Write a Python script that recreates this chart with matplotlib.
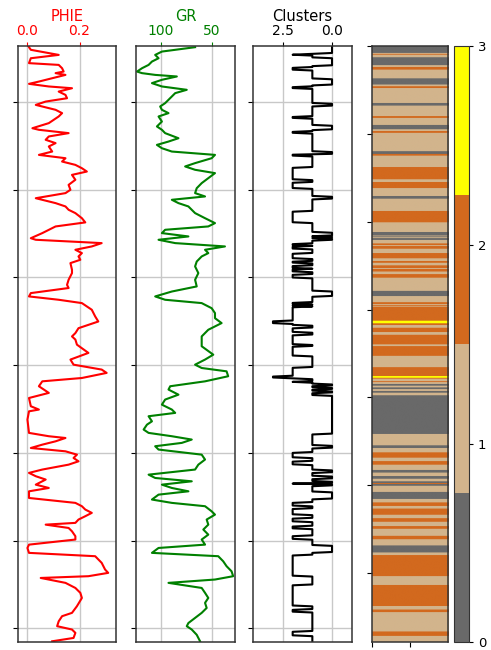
import numpy as np
import matplotlib.pyplot as plt
from matplotlib.colors import ListedColormap

# well section (ft), logs sampled every half foot
top_depth = 3668.0
base_depth = 4008.0
step = 0.5

phie_depth = [3668.0, 3668.7, 3670.2, 3673.1, 3675.0, 3677.8, 3678.8, 3680.7, 3682.6, 3683.5,
              3684.5, 3686.4, 3688.3, 3689.6, 3691.1, 3692.1, 3694.0, 3695.9, 3697.8, 3699.7,
              3701.6, 3702.5, 3704.4, 3706.3, 3708.2, 3712.0, 3714.9, 3715.8, 3717.7, 3719.6,
              3721.5, 3723.4, 3725.3, 3728.2, 3730.1, 3732.0, 3733.9, 3735.8, 3737.7, 3739.6,
              3741.5, 3744.3, 3747.2, 3750.0, 3751.9, 3754.8, 3755.7, 3757.6, 3759.5, 3761.4,
              3763.3, 3766.2, 3768.6, 3770.9, 3774.7, 3777.6, 3778.5, 3780.4, 3782.3, 3784.2,
              3786.1, 3788.0, 3789.9, 3791.8, 3795.6, 3797.5, 3801.3, 3804.2, 3806.0, 3808.9,
              3810.8, 3812.7, 3814.6, 3816.5, 3818.4, 3822.2, 3825.1, 3827.0, 3828.9, 3831.7,
              3833.6, 3835.4, 3838.3, 3843.0, 3846.8, 3849.7, 3852.5, 3854.4, 3857.3, 3859.2,
              3862.0, 3863.9, 3865.8, 3868.7, 3873.4, 3875.3, 3876.3, 3881.0, 3888.6, 3890.5,
              3891.5, 3893.4, 3895.3, 3897.2, 3899.1, 3901.0, 3902.9, 3904.8, 3906.7, 3909.5,
              3911.4, 3913.3, 3915.2, 3918.1, 3920.0, 3921.9, 3925.7, 3928.5, 3930.4, 3932.3,
              3934.2, 3936.1, 3938.0, 3939.9, 3940.9, 3942.8, 3944.7, 3947.5, 3949.4, 3952.3,
              3954.2, 3957.0, 3958.9, 3962.7, 3966.5, 3968.4, 3970.3, 3971.3, 3974.1, 3977.0,
              3979.8, 3982.7, 3987.4, 3991.2, 3993.1, 3996.0, 3998.8, 4000.7, 4002.6, 4005.5,
              4007.4]
phie = [0.004, 0.006, 0.013, 0.120, 0.013, 0.006, 0.120, 0.133, 0.139, 0.108,
        0.146, 0.095, 0.044, 0.006, 0.082, 0.171, 0.120, 0.146, 0.152, 0.070,
        0.032, 0.057, 0.108, 0.133, 0.120, 0.082, 0.019, 0.044, 0.158, 0.082,
        0.070, 0.108, 0.082, 0.095, 0.044, 0.146, 0.133, 0.184, 0.209, 0.228,
        0.171, 0.184, 0.158, 0.165, 0.146, 0.032, 0.057, 0.108, 0.146, 0.158,
        0.184, 0.209, 0.222, 0.108, 0.057, 0.013, 0.032, 0.285, 0.247, 0.184,
        0.209, 0.196, 0.203, 0.165, 0.171, 0.171, 0.158, 0.152, 0.158, 0.013,
        0.006, 0.120, 0.209, 0.228, 0.247, 0.260, 0.272, 0.234, 0.196, 0.184,
        0.171, 0.184, 0.190, 0.234, 0.165, 0.177, 0.285, 0.304, 0.209, 0.057,
        0.044, 0.063, 0.082, 0.006, 0.013, 0.044, 0.006, 0.000, 0.006, 0.082,
        0.146, 0.108, 0.057, 0.013, 0.146, 0.190, 0.177, 0.196, 0.158, 0.057,
        0.006, 0.032, 0.070, 0.032, 0.082, 0.006, 0.006, 0.184, 0.209, 0.222,
        0.247, 0.222, 0.196, 0.184, 0.070, 0.158, 0.171, 0.184, 0.184, 0.006,
        0.000, 0.006, 0.260, 0.285, 0.298, 0.310, 0.234, 0.051, 0.146, 0.184,
        0.203, 0.209, 0.190, 0.171, 0.133, 0.120, 0.114, 0.171, 0.184, 0.177,
        0.095]

gr_depth = [3668.7, 3671.2, 3673.1, 3675.0, 3676.9, 3678.8, 3680.7, 3682.6, 3683.5, 3684.5,
            3685.4, 3687.3, 3689.2, 3691.1, 3693.0, 3694.9, 3696.8, 3698.7, 3700.6, 3702.5,
            3704.4, 3706.3, 3708.2, 3711.1, 3713.9, 3715.8, 3717.7, 3720.6, 3722.5, 3724.4,
            3726.3, 3728.2, 3730.1, 3732.0, 3734.8, 3736.7, 3738.6, 3740.5, 3743.4, 3746.2,
            3749.1, 3751.9, 3753.8, 3755.7, 3757.6, 3759.5, 3761.4, 3763.3, 3766.2, 3769.0,
            3770.9, 3772.8, 3774.7, 3776.6, 3778.5, 3780.4, 3782.3, 3784.2, 3786.1, 3788.0,
            3790.9, 3793.7, 3797.5, 3801.3, 3805.1, 3808.0, 3810.8, 3812.7, 3814.6, 3817.5,
            3820.3, 3823.2, 3826.0, 3827.9, 3829.8, 3831.7, 3833.6, 3835.4, 3839.2, 3844.0,
            3846.8, 3849.7, 3851.6, 3853.5, 3856.3, 3859.2, 3862.0, 3863.9, 3866.8, 3869.6,
            3872.5, 3875.3, 3877.2, 3879.1, 3882.0, 3883.9, 3886.7, 3888.6, 3890.5, 3892.4,
            3894.3, 3896.2, 3898.1, 3901.0, 3903.8, 3906.7, 3909.5, 3912.4, 3914.3, 3916.2,
            3918.1, 3920.0, 3921.9, 3923.8, 3926.6, 3928.5, 3930.4, 3933.3, 3935.2, 3938.0,
            3940.9, 3943.7, 3946.6, 3949.4, 3952.3, 3954.2, 3957.0, 3958.9, 3961.8, 3964.6,
            3967.5, 3970.3, 3972.2, 3974.1, 3977.0, 3979.8, 3982.7, 3985.5, 3988.4, 3991.2,
            3994.1, 3997.0, 3998.8, 4000.7, 4003.7, 4007.4]
gr = [66.3, 99.0, 105.6, 102.3, 108.8, 112.1, 118.6, 123.5, 118.6, 105.6,
      84.3, 99.0, 108.8, 99.0, 74.5, 85.9, 89.2, 92.5, 95.8, 100.7,
      99.0, 92.5, 102.3, 99.0, 103.9, 99.0, 95.8, 82.7, 92.5, 103.9,
      99.0, 89.2, 46.7, 50.0, 66.3, 76.1, 66.3, 46.7, 53.3, 59.8,
      64.7, 66.3, 56.5, 89.2, 82.7, 72.9, 69.6, 66.3, 56.5, 46.7,
      53.3, 95.8, 99.0, 72.9, 102.3, 85.9, 36.9, 56.5, 53.3, 59.8,
      64.7, 66.3, 63.1, 66.3, 64.7, 89.2, 105.6, 95.8, 59.8, 50.0,
      46.7, 46.7, 40.2, 46.7, 53.3, 56.5, 59.8, 59.8, 59.8, 48.4,
      56.5, 66.3, 59.8, 35.3, 33.7, 56.5, 90.8, 92.5, 82.7, 95.8,
      99.0, 89.2, 85.9, 112.1, 108.8, 113.7, 117.0, 112.1, 89.2, 69.6,
      79.4, 105.6, 102.3, 59.8, 56.5, 63.1, 66.3, 112.1, 105.6, 69.6,
      99.0, 89.2, 72.9, 102.3, 108.8, 89.2, 56.5, 50.0, 46.7, 54.9,
      53.3, 58.2, 53.3, 59.8, 56.5, 102.3, 108.8, 43.5, 38.6, 35.3,
      30.4, 28.8, 46.7, 92.5, 59.8, 56.5, 53.3, 56.5, 54.9, 59.8,
      66.3, 72.9, 74.5, 69.6, 64.7, 61.4]

# cluster label of each interval, given by interval top
clus_top = [3668.0, 3672.5, 3672.9, 3673.4, 3675.0, 3679.3, 3680.7, 3682.0, 3686.9, 3690.7,
            3691.7, 3692.6, 3701.0, 3702.5, 3708.6, 3709.7, 3713.5, 3715.8, 3716.9, 3718.1,
            3728.7, 3729.9, 3731.0, 3737.7, 3744.3, 3745.8, 3749.6, 3754.2, 3755.3, 3762.4,
            3769.0, 3774.7, 3776.5, 3777.0, 3777.6, 3778.0, 3778.9, 3780.8, 3782.0, 3782.5,
            3784.2, 3786.5, 3789.5, 3790.9, 3792.2, 3793.7, 3795.0, 3795.5, 3797.1, 3798.5,
            3800.4, 3808.0, 3810.8, 3814.6, 3815.5, 3816.0, 3816.6, 3817.1, 3825.1, 3826.4,
            3827.5, 3828.9, 3831.7, 3833.2, 3838.3, 3839.6, 3844.9, 3851.6, 3856.7, 3857.4,
            3858.2, 3859.3, 3859.9, 3861.1, 3862.0, 3863.0, 3863.9, 3864.9, 3865.8, 3867.7,
            3889.6, 3895.8, 3897.7, 3900.0, 3902.9, 3904.8, 3907.2, 3910.1, 3911.4, 3913.3,
            3914.8, 3916.7, 3917.5, 3918.1, 3919.0, 3922.4, 3926.6, 3928.5, 3930.4, 3931.9,
            3935.7, 3937.6, 3939.5, 3942.2, 3943.7, 3947.5, 3949.4, 3952.8, 3957.0, 3958.5,
            3970.3, 3975.6, 3987.4, 3989.3, 3990.8, 4002.2, 4004.5]
clus_val = [0, 1, 2, 1, 0, 1, 2, 1, 0, 1,
            2, 1, 0, 1, 2, 1, 0, 1, 2, 1,
            0, 2, 1, 2, 1, 2, 1, 0, 1, 2,
            1, 0, 1, 0, 1, 0, 1, 2, 1, 2,
            1, 2, 1, 2, 1, 2, 1, 2, 1, 2,
            1, 0, 1, 2, 1, 2, 1, 2, 3, 2,
            1, 2, 1, 2, 1, 2, 1, 2, 3, 2,
            1, 2, 1, 0, 1, 0, 1, 0, 1, 0,
            1, 0, 1, 2, 1, 2, 1, 0, 1, 0,
            1, 0, 2, 0, 1, 0, 1, 2, 1, 2,
            1, 2, 1, 2, 1, 2, 1, 0, 1, 2,
            1, 2, 1, 2, 1, 2, 1]

facies_colors = ['dimgray', 'tan', 'chocolate', 'yellow']

# expand the intervals to the log sampling
bounds = np.append(clus_top, base_depth)
idx = np.round((bounds - top_depth) / step).astype(int)
clusters = np.repeat(clus_val, np.diff(idx))
depth = top_depth + step * np.arange(len(clusters))

fig = plt.figure(figsize=(4.91, 6.5), dpi=100)
bot, hgt = 0.0118, 0.9175
ax1 = fig.add_axes([0.0373, bot, 0.199, hgt])
ax2 = fig.add_axes([0.277, bot, 0.2016, hgt])
ax3 = fig.add_axes([0.5159, bot, 0.2004, hgt])
ax4 = fig.add_axes([0.757, bot, 0.1548, hgt])
cax = fig.add_axes([0.9253, bot, 0.0305, hgt])

def log_track(ax, x, y, color, label, xlim, xticks):
    ax.plot(x, y, color=color, lw=1.5)
    ax.set_xlim(*xlim)
    ax.set_ylim(base_depth, top_depth)
    ax.set_xticks(xticks)
    ax.set_yticks(np.arange(3700, 4001, 50))
    ax.tick_params(axis='y', labelleft=False, length=3.5)
    ax.xaxis.tick_top()
    ax.xaxis.set_label_position('top')
    ax.set_xlabel(label, color=color, fontsize=10.5, labelpad=2)
    ax.tick_params(axis='x', colors=color, labelsize=10, length=3, pad=3)
    ax.grid(True, color='#c8c8c8', lw=1)
    for s in ax.spines.values():
        s.set_color('#333333')
        s.set_linewidth(1.1)

log_track(ax1, phie, phie_depth, 'red', 'PHIE', (-0.035, 0.34), [0.0, 0.2])
log_track(ax2, gr, gr_depth, 'green', 'GR', (124.5, 27), [100, 50])
log_track(ax3, clusters, depth, 'black', 'Clusters', (4, -1), [2.5, 0.0])
ax1.xaxis.set_major_formatter(plt.FormatStrFormatter('%.1f'))
ax3.xaxis.set_major_formatter(plt.FormatStrFormatter('%.1f'))

cmap = ListedColormap(facies_colors)
img = np.repeat(clusters[:, None], 100, axis=1)
im = ax4.imshow(img, aspect='auto', cmap=cmap, vmin=0, vmax=3)
ax4.set_yticks(np.arange(0, 601, 100))
ax4.set_xticks([0, 50])
ax4.tick_params(labelleft=False, labelbottom=False, length=3.5)
for s in ax4.spines.values():
    s.set_color('#333333')
    s.set_linewidth(1.1)

cb = fig.colorbar(im, cax=cax, ticks=[0, 1, 2, 3])
cb.ax.tick_params(labelsize=9.5, length=3, pad=3)
cb.outline.set_edgecolor('#333333')

fig.savefig('out.png', dpi=100)
